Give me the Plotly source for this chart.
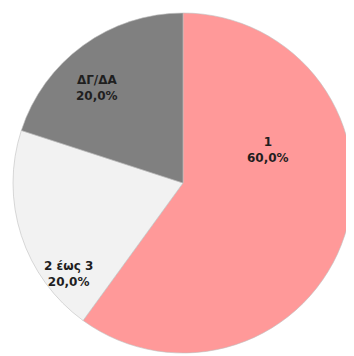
import plotly.graph_objects as go

labels = ["1", "2 έως 3", "ΔΓ/ΔΑ"]
values = [60, 20, 20]
colors = ["#FF9999", "#F2F2F2", "#808080"]

# layout (pixels, figure coordinates)
W, H = 354, 356
cx, cy, r = 175, 175, 170
# label offsets from pie centre (px, +x right, +y down)
label_offsets = [(85, -33), (-115, 91), (-86, -95)]

fig = go.Figure(go.Pie(
    labels=labels,
    values=values,
    sort=False,
    direction="clockwise",
    rotation=0,
    marker=dict(colors=colors, line=dict(color="#BFBFBF", width=0.6)),
    textinfo="none",
    hoverinfo="label+percent",
    domain=dict(x=[(cx - r) / W, (cx + r) / W], y=[(H - cy - r) / H, (H - cy + r) / H]),
    showlegend=False,
))

total = sum(values)
for lab, val, (dx, dy) in zip(labels, values, label_offsets):
    pct = f"{100 * val / total:.1f}".replace(".", ",") + "%"
    fig.add_annotation(
        x=(cx + dx) / W, y=(H - cy - dy) / H, xref="paper", yref="paper",
        xanchor="center", yanchor="middle",
        text=f"<b>{lab}</b><br><b>{pct}</b>",
        showarrow=False,
        font=dict(family="DejaVu Sans, sans-serif", size=12, color="#1f1f1f"),
        align="center",
    )

fig.update_layout(
    width=W, height=H,
    margin=dict(l=0, r=0, t=0, b=0),
    paper_bgcolor="white",
    separators=",.",
)

fig.write_html("out.html")
